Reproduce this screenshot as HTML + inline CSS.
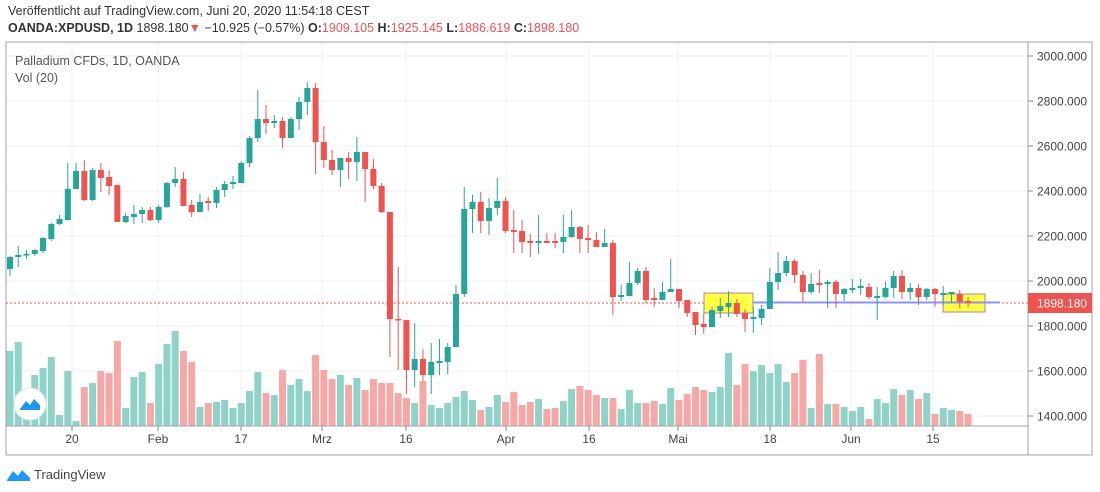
<!DOCTYPE html>
<html><head><meta charset="utf-8"><style>
body{margin:0;width:1100px;height:492px;background:#fff;font-family:"Liberation Sans",sans-serif;overflow:hidden;position:relative}
.t{position:absolute;white-space:nowrap}
</style></head><body>
<div class="t" style="left:8px;top:4px;font-size:12.5px;color:#333">Veröffentlicht auf TradingView.com, Juni 20, 2020 11:54:18 CEST</div>
<div class="t" style="left:8px;top:21px;font-size:12.5px;color:#333"><b>OANDA:XPDUSD, 1D</b> 1898.180<span style="color:#ef5350">▼</span> −10.925 (−0.57%) <b>O:</b><span style="color:#ef5350">1909.105</span> <b>H:</b><span style="color:#ef5350">1925.145</span> <b>L:</b><span style="color:#ef5350">1886.619</span> <b>C:</b><span style="color:#ef5350">1898.180</span></div>
<svg id="s" width="1100" height="492" style="position:absolute;left:0;top:0"></svg>
<script>
const d=[
['g',257,269,256,276,351],['g',255,257,246,267,342],['g',254,255,250,259,395],['g',250,254,249,256,375],['g',238,251,237,253,368],['g',224,239,223,241,357],['g',219,224,215,225,415],['g',189,220,163,220,371],['g',171,189,163,189,421],['r',171,200,160,201,387],['g',170,200,168,201,383],['r',170,178,163,192,371],['r',177,186,170,195,373],['r',185,222,185,222,341],['g',216,222,213,223,408],['g',214,217,205,224,377],['g',210,214,207,223,372],['r',210,220,207,221,403],['g',207,220,205,223,364],['g',183,207,182,208,344],['g',179,183,167,187,331],['r',179,206,172,206,351],['r',205,212,200,217,362],['g',202,212,194,212,407],['r',201,203,197,211,403],['g',190,203,187,208,402],['g',184,190,181,197,400],['g',182,184,176,189,408],['g',163,183,161,183,403],['g',138,163,136,167,391],['g',119,138,90,142,372],['r',119,123,105,134,393],['g',121,123,115,128,395],['r',121,138,117,148,370],['g',119,138,117,138,385],['g',102,119,97,130,379],['g',88,102,82,115,391],['r',88,142,83,174,355],['r',142,160,126,168,370],['r',160,170,150,175,379],['g',158,170,158,187,375],['r',158,162,152,179,385],['g',152,162,137,181,378],['r',152,169,152,202,390],['r',169,186,159,189,379],['r',186,212,183,213,383],['r',212,319,212,357,383],['r',319,320,267,370,393],
['r',320,370,320,394,398],['g',359,370,323,387,403],['r',359,375,349,381,381],['g',362,375,343,394,405],['g',361,363,339,375,408],['g',347,362,343,374,403],['g',294,347,285,347,397],['g',209,294,187,297,391],['g',202,209,195,233,400],['r',202,221,192,233,410],['g',208,221,198,235,407],['g',201,208,178,215,395],['r',201,231,197,233,402],['r',230,232,210,253,392],['r',231,242,220,253,405],['r',241,243,234,257,402],['g',241,243,215,254,399],['r',241,243,233,243,409],['r',241,243,233,248,408],['g',237,242,215,253,401],['g',227,237,210,238,389],['r',227,239,226,253,386],['r',238,240,225,253,390],['r',240,247,232,247,395],['g',243,247,229,247,398],['r',243,297,240,315,398],['g',295,297,285,301,409],['g',283,296,262,296,390],['g',271,283,268,285,403],['r',271,300,267,303,403],['r',298,300,288,307,401],['g',292,300,282,300,404],['g',289,292,259,292,388],['r',289,301,289,308,400],['r',300,313,300,317,394],['r',312,325,312,335,387],['r',324,327,313,334,390],['g',310,327,307,327,392],['g',306,311,298,318,387],['g',303,307,291,317,353],['r',303,314,299,317,385],['r',313,319,309,332,364],['g',317,319,307,333,371],['g',309,318,305,325,365],['g',282,309,268,309,373],['g',273,282,252,290,364],['g',261,273,256,276,382],['r',261,275,259,283,373],['r',275,292,271,302,360],['g',284,292,273,294,408],['r',283,285,270,293,354],['g',282,284,280,308,404],['r',282,294,280,308,404],['g',289,294,288,301,407],['g',288,290,279,293,411],['g',286,288,279,295,407],['r',287,297,283,299,419],['g',296,298,287,320,399],['g',288,297,282,298,403],['g',276,288,271,298,389],['r',276,292,270,299,395],['g',288,292,283,300,390],['r',288,297,284,305,399],['g',289,297,288,300,393],['r',289,294,288,307,414],['g',293,295,286,305,408],['g',292,294,292,303,410],['r',294,302,290,308,411],['r',301,303,297,307,414]];
const s=document.getElementById('s');let h='';
const grid='#eef0f6';
// horizontal grids
for(let p=1400;p<=3000;p+=200){const y=56+(3000-p)*0.225;h+=`<line x1="6" x2="1028" y1="${y}" y2="${y}" stroke="${grid}"/>`;h+=`<line x1="1028" x2="1033" y1="${y}" y2="${y}" stroke="#888"/><text x="1037" y="${y+4.5}" font-size="12" fill="#444">${p}.000</text>`;}
const tl=[[72,'20'],[158,'Feb'],[241,'17'],[322,'Mrz'],[406,'16'],[506,'Apr'],[589,'16'],[678,'Mai'],[770,'18'],[851,'Jun'],[933,'15']];
for(const [x,t] of tl){h+=`<line x1="${x}" x2="${x}" y1="42" y2="426" stroke="${grid}"/><line x1="${x}" x2="${x}" y1="426" y2="431" stroke="#888"/><text x="${x}" y="443" font-size="12" fill="#444" text-anchor="middle">${t}</text>`;}
// volumes
d.forEach((c,i)=>{const x=10+i*8.259;h+=`<rect x="${x-3.5}" y="${c[5]}" width="7" height="${426-c[5]}" fill="${c[0]=='g'?'#8fd3c8':'#f6a8a6'}"/>`;});
// price line
h+=`<line x1="6" x2="1028" y1="303" y2="303" stroke="#ef5350" stroke-dasharray="2,2"/>`;
h+=`<rect x="704" y="293" width="49" height="20" fill="#ffff44" stroke="#b07fa8"/><rect x="943" y="294" width="42" height="18" fill="#ffff44" stroke="#b07fa8"/>`;
h+=`<line x1="753" x2="1000" y1="302.5" y2="302.5" stroke="#8f8ff5" stroke-width="2"/>`;
d.forEach((c,i)=>{const x=10+i*8.259;const col=c[0]=='g'?'#26a69a':'#ef5350';h+=`<line x1="${x}" x2="${x}" y1="${c[3]}" y2="${c[4]}" stroke="${col}" stroke-width="1"/><rect x="${x-3}" y="${c[1]}" width="6" height="${Math.max(1.5,c[2]-c[1])}" fill="${col}"/>`;});
// frame
h+=`<rect x="6" y="42" width="1086" height="413" fill="none" stroke="#a0a3ab"/><line x1="1028" x2="1028" y1="42" y2="455" stroke="#a0a3ab"/><line x1="6" x2="1028" y1="426" y2="426" stroke="#a0a3ab"/>`;
h+=`<rect x="1028" y="293" width="64" height="20" fill="#ef5350"/><text x="1037" y="307.5" font-size="12" fill="#fff">1898.180</text>`;
h+=`<text x="15" y="65" font-size="12.5" fill="#555">Palladium CFDs, 1D, OANDA</text><text x="15" y="82" font-size="12.5" fill="#555">Vol (20)</text>`;
h+=`<circle cx="30" cy="404" r="16" fill="#fff" stroke="#e0e3eb"/><path d="M20 409 L26 401 L30 405 L34 399 L40 405 L40 410 L20 410Z" fill="#2196f3"/>`;
h+=`<path d="M7 480 L13 471 L18 476 L22 470 L30 478 L30 481 L7 481Z" fill="#2196f3"/><text x="34" y="479" font-size="13" fill="#444">TradingView</text>`;
s.innerHTML=h;
</script>
</body></html>
